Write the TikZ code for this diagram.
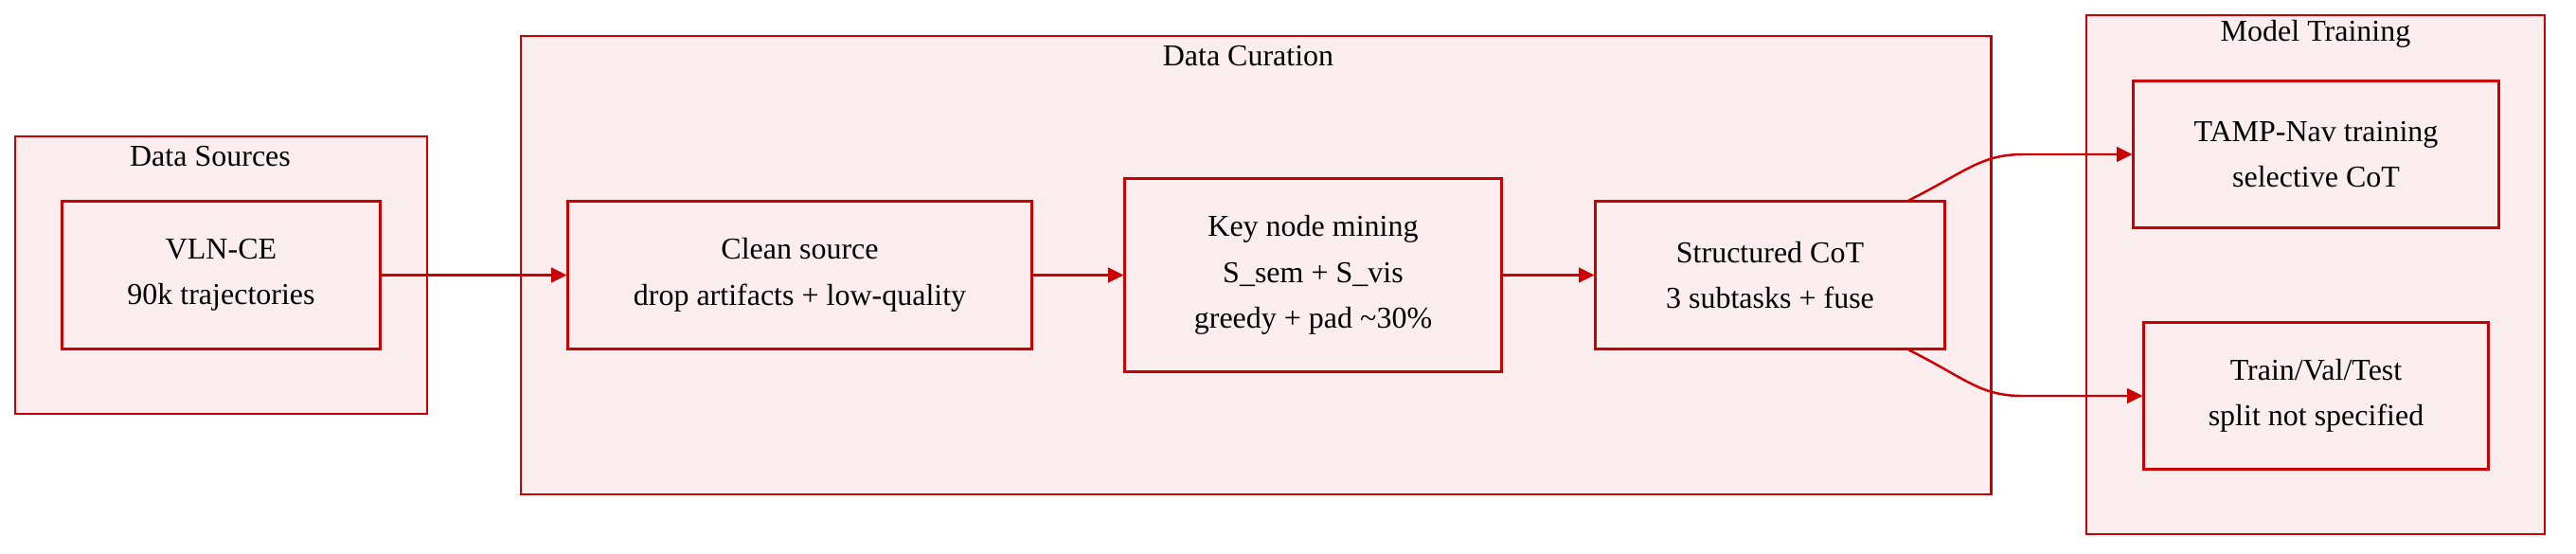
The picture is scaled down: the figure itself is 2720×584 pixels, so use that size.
\documentclass[tikz,border=0pt]{standalone}
\usepackage{fontspec}
\setmainfont{Liberation Serif}
\usepackage{tikz}
\usetikzlibrary{arrows.meta}
\definecolor{boxred}{RGB}{204,0,0}
\definecolor{boxfill}{RGB}{252,238,239}

\begin{document}
\begin{tikzpicture}[x=0.01cm, y=-0.01cm,
    group/.style={draw=boxred, fill=boxfill, line width=0.6pt, inner sep=0pt},
    stage/.style={draw=boxred, fill=boxfill, line width=0.85pt, align=center, inner sep=0pt,
        minimum height=1.55cm, font=\fontsize{9.1}{13.8}\selectfont},
    grouptitle/.style={font=\fontsize{9.1}{13.8}\selectfont},
    flow/.style={draw=boxred, line width=0.7pt, -{Triangle[length=4.6pt, width=4.4pt]}}]
    \useasboundingbox (0,0) rectangle (2720,584);

    \node [group, minimum width=4.35cm, minimum height=2.93cm] (sources) at (233.5,290.5) {};
    \node [group, minimum width=15.52cm, minimum height=4.84cm] (curation) at (1326,280) {};
    \node [group, minimum width=4.84cm, minimum height=5.48cm] (training) at (2445,290) {};
    \node [grouptitle] (sourcestitle) at (222,165) {Data Sources};
    \node [grouptitle] (curationtitle) at (1318,59) {Data Curation};
    \node [grouptitle] (trainingtitle) at (2445,36) {Model Training};

    \node [stage, minimum width=3.35cm] (vlnce) at (233.5,290.5) {VLN-CE\\90k trajectories};
    \node [stage, minimum width=4.89cm] (clean) at (844.5,290.5) {Clean source\\drop artifacts + low-quality};
    \node [stage, minimum width=3.97cm, minimum height=2.03cm] (keynode) at (1386.5,290.5) {Key node mining\\S\_sem + S\_vis\\greedy + pad \textasciitilde30\%};
    \node [stage, minimum width=3.68cm] (cot) at (1869,290.5) {Structured CoT\\3 subtasks + fuse};
    \node [stage, minimum width=3.85cm] (tamp) at (2445.5,163) {TAMP-Nav training\\selective CoT};
    \node [stage, minimum width=3.63cm] (split) at (2445.5,418) {Train/Val/Test\\split not specified};

    \draw [flow] (vlnce) -- (clean);
    \draw [flow] (clean) -- (keynode);
    \draw [flow] (keynode) -- (cot);
    \draw [flow] ([xshift=-0.39cm]cot.north east) .. controls +(60,-30) and +(-45,0) .. ([xshift=-1.15cm]tamp.west) -- (tamp.west);
    \draw [flow] ([xshift=-0.39cm]cot.south east) .. controls +(60,30) and +(-45,0) .. ([xshift=-1.27cm]split.west) -- (split.west);
\end{tikzpicture}
\end{document}
